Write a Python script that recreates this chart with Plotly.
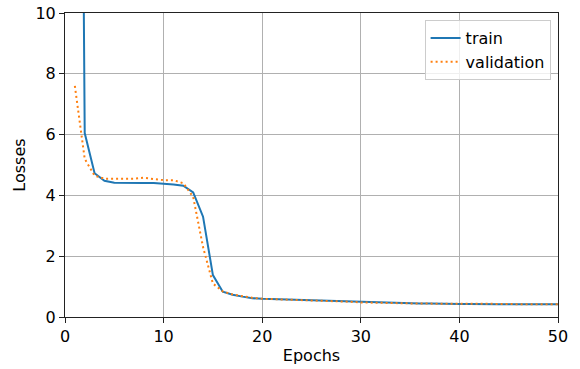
import plotly.graph_objects as go

epochs = list(range(1, 51))
train = [50.0, 6.05, 4.73, 4.48, 4.42, 4.41, 4.41, 4.41, 4.41, 4.39,
         4.36, 4.32, 4.10, 3.30, 1.38, 0.83, 0.73, 0.67, 0.62, 0.60,
         0.59, 0.58, 0.57, 0.56, 0.55, 0.54, 0.53, 0.52, 0.50, 0.48,
         0.47, 0.46, 0.45, 0.45, 0.44, 0.44, 0.44, 0.43, 0.43, 0.43,
         0.43, 0.42, 0.42, 0.42, 0.42, 0.42, 0.42, 0.42, 0.42, 0.42]
validation = [7.60, 5.20, 4.65, 4.55, 4.55, 4.54, 4.55, 4.58, 4.54, 4.50,
              4.50, 4.40, 3.95, 2.30, 1.10, 0.84, 0.74, 0.68, 0.63, 0.60,
              0.59, 0.58, 0.57, 0.56, 0.55, 0.55, 0.54, 0.52, 0.50, 0.48,
              0.47, 0.46, 0.45, 0.45, 0.44, 0.44, 0.44, 0.44, 0.45, 0.45,
              0.44, 0.44, 0.43, 0.43, 0.43, 0.42, 0.42, 0.42, 0.42, 0.42]
x_ticks = [0, 10, 20, 30, 40, 50]
y_ticks = [0, 2, 4, 6, 8, 10]

FONT = dict(family="DejaVu Sans", size=16, color="#000")

fig = go.Figure()
fig.add_trace(go.Scatter(x=epochs, y=train, mode="lines", name="train",
                         line=dict(color="#1f77b4", width=2)))
fig.add_trace(go.Scatter(x=epochs, y=validation, mode="lines", name="validation",
                         line=dict(color="#ff7f0e", width=2, dash="2px,3px")))

axis_common = dict(showline=True, mirror=True, linecolor="#222", linewidth=1,
                   showgrid=True, gridcolor="#b0b0b0", gridwidth=1,
                   zeroline=False, ticks="outside", ticklen=5, tickcolor="#222",
                   automargin=False, ticklabeloverflow="allow",
                   tickfont=FONT)
fig.update_xaxes(range=[0, 50], tickvals=x_ticks,
                 title=dict(text="Epochs", font=FONT, standoff=4),
                 **axis_common)
fig.update_yaxes(range=[0, 10], tickvals=y_ticks,
                 title=dict(text="Losses", font=FONT, standoff=5),
                 **axis_common)

fig.update_layout(
    template="none",
    width=580, height=369,
    margin=dict(l=65, r=22, t=13, b=52, pad=0),
    plot_bgcolor="white", paper_bgcolor="white",
    font=FONT,
    legend=dict(x=0.985, y=0.977, xanchor="right", yanchor="top",
                bgcolor="rgba(255,255,255,0.8)", bordercolor="#cccccc", borderwidth=1,
                font=FONT, tracegroupgap=0, itemwidth=30),
    showlegend=True,
)

fig.write_html("out.html", config={"displayModeBar": False},
               post_script="document.body.style.margin='0';document.body.style.overflow='hidden';")
